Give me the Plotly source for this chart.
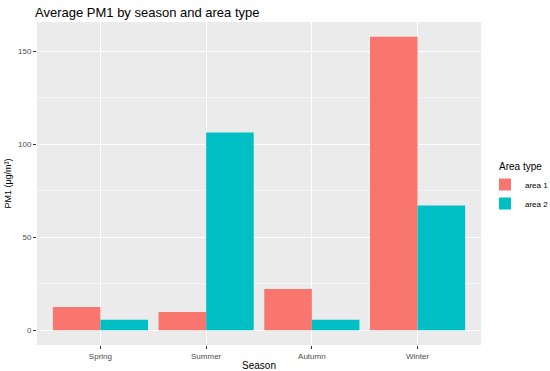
import plotly.graph_objects as go

seasons = ["Spring", "Summer", "Autumn", "Winter"]
area1 = [12.5, 9.8, 22.2, 157.7]
area2 = [5.7, 106.2, 5.7, 67.0]
y_ticks = [0, 50, 100, 150]

fig = go.Figure()
fig.add_trace(go.Bar(x=seasons, y=area1, name="area 1", marker=dict(color="#F8766D", line=dict(width=0))))
fig.add_trace(go.Bar(x=seasons, y=area2, name="area 2", marker=dict(color="#00BFC4", line=dict(width=0))))

fig.update_layout(
    width=550, height=371,
    margin=dict(l=37, r=69, t=22, b=26),
    paper_bgcolor="white", plot_bgcolor="#EBEBEB",
    barmode="group", bargap=0.1, bargroupgap=0,
    font=dict(family="Liberation Sans, Arial, sans-serif", color="#4D4D4D"),
    title=dict(text="Average PM1 by season and area type", xref="container", x=35/550,
               yref="container", y=1 - 12/371, yanchor="middle", xanchor="left",
               font=dict(size=13, color="black")),
    legend=dict(font=dict(size=8, color="black"), xref="container", yref="container",
                x=485/550, xanchor="left", y=1 - 170/371, yanchor="top",
                bgcolor="rgba(0,0,0,0)", tracegroupgap=0, itemwidth=30),
    annotations=[dict(text="Area type", xref="paper", yref="paper",
                      x=(497 - 37) / 444, y=(345 - 166) / 323,
                      xanchor="left", yanchor="middle", showarrow=False,
                      font=dict(size=10, color="black"))],
    xaxis=dict(type="category", range=[-0.6, 3.6], showgrid=True, gridcolor="white", gridwidth=1,
               ticks="outside", ticklen=3, tickcolor="#333333", tickfont=dict(size=8, color="#4D4D4D"),
               title=dict(text="Season", font=dict(size=10, color="black"), standoff=2),
               zeroline=False, showline=False, automargin=False),
    yaxis=dict(range=[-7.9, 165.6], tickvals=y_ticks, showgrid=True, gridcolor="white", gridwidth=1,
               minor=dict(tickvals=[25, 75, 125], showgrid=True, gridcolor="#F5F5F5", gridwidth=0.5),
               ticks="outside", ticklen=3, tickcolor="#333333", tickfont=dict(size=8, color="#4D4D4D"),
               title=dict(text="PM1 (μg/m³)", font=dict(size=9, color="black"), standoff=4),
               zeroline=False, showline=False, automargin=False),
)

fig.write_html("out.html", config={"displayModeBar": False},
               post_script="document.body.style.margin='0';")
